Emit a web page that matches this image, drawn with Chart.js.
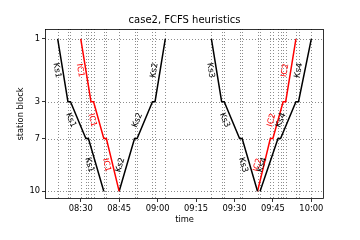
<!DOCTYPE html>
<html>
<head>
<meta charset="utf-8">
<script src="https://cdn.jsdelivr.net/npm/chart.js@4/dist/chart.umd.min.js"></script>
<style>html,body{margin:0;padding:0;background:#fff}</style>
</head>
<body>
<canvas id="myChart" width="360" height="240"></canvas>
<script>
var stations = ['1', '3', '7', '10'];
var stationKm = [0, 6.3, 10, 15.3];
var xTicks = ['08:30', '08:45', '09:00', '09:15', '09:30', '09:45', '10:00'];

var downStops = ['1', '3', '3', '7', '7', '10'];
var upStops = ['10', '7', '7', '3', '3', '1'];

var ks1Times = ['08:21', '08:25', '08:26', '08:32', '08:33', '08:39'];
var ic1Times = ['08:30', '08:34', '08:35', '08:39', '08:40', '08:45'];
var ks2Times = ['08:45', '08:51', '08:52', '08:58', '08:59', '09:03'];
var ks3Times = ['09:21', '09:25', '09:26', '09:32', '09:33', '09:39'];
var ic2Times = ['09:39', '09:44', '09:45', '09:49', '09:50', '09:54'];
var ks4Times = ['09:40', '09:47', '09:48', '09:54', '09:55', '10:00'];

var FONT = "'DejaVu Sans', sans-serif";

function mins(s) {
    var p = s.split(':');
    return (+p[0]) * 60 + (+p[1]);
}
function fmt(m) {
    var h = Math.floor(m / 60), mm = Math.round(m - h * 60);
    return (h < 10 ? '0' : '') + h + ':' + (mm < 10 ? '0' : '') + mm;
}
function km(st) {
    return stationKm[stations.indexOf(st)];
}

var trains = [
    {label: 'Ks1', times: ks1Times, stops: downStops, color: '#000000'},
    {label: 'IC1', times: ic1Times, stops: downStops, color: '#ff0000'},
    {label: 'Ks2', times: ks2Times, stops: upStops, color: '#000000'},
    {label: 'Ks3', times: ks3Times, stops: downStops, color: '#000000'},
    {label: 'IC2', times: ic2Times, stops: upStops, color: '#ff0000'},
    {label: 'Ks4', times: ks4Times, stops: upStops, color: '#000000'}
];

var datasets = [];
var allTimes = [];
for (var i = 0; i < trains.length; i++) {
    var t = trains[i];
    var pts = [];
    for (var j = 0; j < t.times.length; j++) {
        pts.push({x: mins(t.times[j]), y: km(t.stops[j])});
        if (allTimes.indexOf(mins(t.times[j])) < 0) allTimes.push(mins(t.times[j]));
    }
    datasets.push({
        label: t.label,
        data: pts,
        borderColor: t.color,
        borderWidth: 1.5,
        pointRadius: 0,
        fill: false,
        tension: 0
    });
}

// margins around the data
var tMin = Math.min.apply(null, allTimes), tMax = Math.max.apply(null, allTimes);
var tPad = (tMax - tMin) * 0.05;

var decor = {
    id: 'decor',
    beforeDatasetsDraw: function (chart) {
        var ctx = chart.ctx, a = chart.chartArea;
        var xs = chart.scales.x, ys = chart.scales.y;
        ctx.save();
        ctx.strokeStyle = '#808080';
        ctx.lineWidth = 0.9;
        ctx.setLineDash([1, 2]);
        for (var i = 0; i < allTimes.length; i++) {
            var x = Math.round(xs.getPixelForValue(allTimes[i])) + 0.5;
            ctx.beginPath(); ctx.moveTo(x, a.top); ctx.lineTo(x, a.bottom); ctx.stroke();
        }
        for (var k = 0; k < stationKm.length; k++) {
            var y = Math.round(ys.getPixelForValue(stationKm[k])) + 0.5;
            ctx.beginPath(); ctx.moveTo(a.left, y); ctx.lineTo(a.right, y); ctx.stroke();
        }
        ctx.restore();
    },
    afterDatasetsDraw: function (chart) {
        var ctx = chart.ctx, a = chart.chartArea;
        var xs = chart.scales.x, ys = chart.scales.y;
        ctx.save();
        // train labels along each running section
        ctx.font = '8.3px ' + FONT;
        ctx.textAlign = 'center';
        ctx.textBaseline = 'middle';
        for (var i = 0; i < trains.length; i++) {
            var t = trains[i];
            ctx.fillStyle = t.color;
            var tw = ctx.measureText(t.label).width, th = 9.5;
            for (var j = 0; j + 1 < t.times.length; j += 2) {
                var x1 = xs.getPixelForValue(mins(t.times[j])), y1 = ys.getPixelForValue(km(t.stops[j]));
                var x2 = xs.getPixelForValue(mins(t.times[j + 1])), y2 = ys.getPixelForValue(km(t.stops[j + 1]));
                var ang = Math.atan2(y2 - y1, x2 - x1);
                var bw = tw * Math.abs(Math.cos(ang)) + th * Math.abs(Math.sin(ang));
                ctx.save();
                ctx.translate((x1 + x2) / 2 - bw / 2, (y1 + y2) / 2);
                ctx.rotate(ang);
                ctx.fillText(t.label, 0, 0);
                ctx.restore();
            }
        }
        // frame
        ctx.strokeStyle = '#000';
        ctx.lineWidth = 0.8;
        ctx.strokeRect(a.left + 0.5, a.top + 0.5, a.right - a.left - 1, a.bottom - a.top - 1);
        ctx.restore();
    },
    afterDraw: function (chart) {
        var ctx = chart.ctx, a = chart.chartArea;
        ctx.save();
        ctx.fillStyle = '#000';
        ctx.textAlign = 'center';
        ctx.textBaseline = 'middle';
        ctx.font = '10px ' + FONT;
        ctx.fillText('case2, FCFS heuristics', (a.left + a.right) / 2, 20.5);
        ctx.font = '8.3px ' + FONT;
        ctx.fillText('time', (a.left + a.right) / 2, 220);
        ctx.translate(20.5, (a.top + a.bottom) / 2);
        ctx.rotate(-Math.PI / 2);
        ctx.fillText('station block', 0, 0);
        ctx.restore();
    }
};

var ctx = document.getElementById('myChart').getContext('2d');
var chart = new Chart(ctx, {
    type: 'line',
    data: {datasets: datasets},
    plugins: [decor],
    options: {
        responsive: false,
        animation: false,
        devicePixelRatio: 1,
        layout: {padding: {top: 29, right: 36, left: 0, bottom: 0}},
        plugins: {legend: {display: false}, title: {display: false}, tooltip: {enabled: false}},
        scales: {
            x: {
                type: 'linear',
                min: tMin - tPad,
                max: tMax + tPad,
                afterFit: function (s) { s.height = 41; },
                afterBuildTicks: function (s) {
                    s.ticks = xTicks.map(function (v) { return {value: mins(v)}; });
                },
                ticks: {
                    callback: function (v) { return fmt(v); },
                    color: '#000',
                    font: {family: FONT, size: 8.3},
                    padding: 2,
                    maxRotation: 0
                },
                grid: {drawOnChartArea: false, drawTicks: true, tickLength: 3, color: '#000', lineWidth: 0.8},
                border: {display: false}
            },
            y: {
                type: 'linear',
                reverse: true,
                min: -1.0,
                max: 16.07,
                afterFit: function (s) { s.width = 45; },
                afterBuildTicks: function (s) {
                    s.ticks = stationKm.map(function (v) { return {value: v}; });
                },
                ticks: {
                    callback: function (v) { return stations[stationKm.indexOf(v)]; },
                    color: '#000',
                    font: {family: FONT, size: 8.3},
                    padding: 2
                },
                grid: {drawOnChartArea: false, drawTicks: true, tickLength: 3, color: '#000', lineWidth: 0.8},
                border: {display: false}
            }
        }
    }
});
</script>
</body>
</html>
